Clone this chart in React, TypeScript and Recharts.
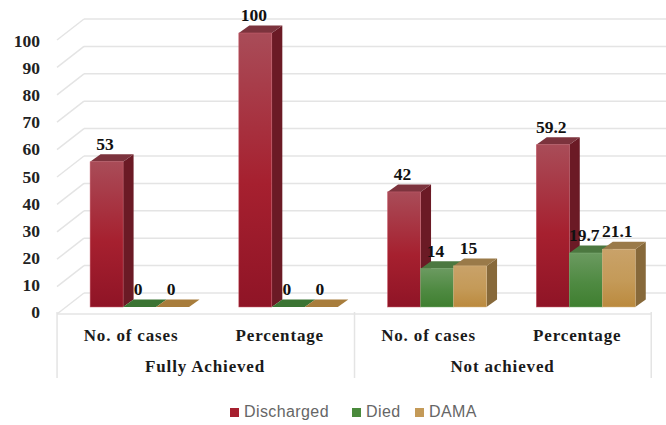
import React from 'react';
import { BarChart, Bar, XAxis, YAxis, CartesianGrid, Legend, LabelList } from 'recharts';

const metrics = ['No. of cases', 'Percentage', 'No. of cases', 'Percentage'];
const groups = ['Fully Achieved', 'Fully Achieved', 'Not achieved', 'Not achieved'];
const discharged = [53, 100, 42, 59.2];
const died = [0, 0, 14, 19.7];
const dama = [0, 0, 15, 21.1];
const yTicks = [0, 10, 20, 30, 40, 50, 60, 70, 80, 90, 100];

const data = metrics.map((metric, i) => ({
  metric,
  group: groups[i],
  Discharged: discharged[i],
  Died: died[i],
  DAMA: dama[i],
}));

const SERIF = '"Liberation Serif", serif';
const WALL = '#e4e4e4';
const DEPTH_X = 10.5;
const DEPTH_Y = 7.5;

const palette = {
  Discharged: { id: 'redFront', top: '#a94c58', mid: '#a6202f', bottom: '#8f1426', side: '#6b1a25', cap: '#7c333d', edge: '#c9606f', flat: '#a6202f' },
  Died: { id: 'greenFront', top: '#6b9a60', mid: '#4f8a42', bottom: '#3f7f30', side: '#3f6433', cap: '#4c7840', edge: '#7fae74', flat: '#3b7433' },
  DAMA: { id: 'amberFront', top: '#c9a269', mid: '#c49a58', bottom: '#bb8a3e', side: '#87693a', cap: '#9a7a49', edge: '#d8b888', flat: '#a87d3c' },
};

// front face plus side and cap, so each bar reads as a solid block
const Block3D = (name: keyof typeof palette) => (props: any) => {
  const { x, y, width, height } = props;
  const c = palette[name];
  const right = x + width;
  const bottom = y + height;
  return (
    <g>
      <polygon
        points={`${right},${y} ${right + DEPTH_X},${y - DEPTH_Y} ${right + DEPTH_X},${bottom - DEPTH_Y} ${right},${bottom}`}
        fill={c.side}
      />
      <polygon
        points={`${x},${y} ${x + DEPTH_X},${y - DEPTH_Y} ${right + DEPTH_X},${y - DEPTH_Y} ${right},${y}`}
        fill={height > 0 ? c.cap : c.flat}
      />
      {height > 0 && <rect x={x} y={y} width={width} height={height} fill={`url(#${c.id})`} stroke={c.edge} strokeWidth={0.5} />}
    </g>
  );
};

// back wall line, offset up from the bar plane, with a diagonal down the side wall
const WallLine = (props: any) => {
  const { x1, x2, y1, index } = props;
  const backY = y1 - 14;
  const backX = x1 + 18.3;
  return (
    <g stroke={WALL} fill="none" strokeWidth={1.5}>
      <line x1={backX} y1={backY} x2={x2 + 6} y2={backY} />
      <line x1={backX} y1={backY} x2={x1 - 8.7} y2={y1 + 7} />
      {index === 0 && <line x1={x1 - 8.7} y1={y1 + 7} x2={x2 - 9.6} y2={y1 + 7} />}
    </g>
  );
};

// labels sit on the front plane, which is slightly compressed against the bar plane
const ValueTick = (props: any) => (
  <text x={props.x - 17.7} y={props.y + 5 + ((307 - props.y) * 3) / 274} textAnchor="end" dominantBaseline="central" fontFamily={SERIF} fontWeight={700} fontSize={17.5} fill="#222">
    {props.payload.value}
  </text>
);

const MetricTick = (props: any) => (
  <text x={props.x - 9} y={props.y + 20} textAnchor="middle" dominantBaseline="central" fontFamily={SERIF} fontWeight={700} fontSize={17} letterSpacing={0.85} fill="#1a1a1a">
    {props.payload.value}
  </text>
);

// one label per pair of categories, with the bracket lines at either side
const GroupTick = (props: any) => {
  const { x, y, index, payload } = props;
  const top = y - 35;
  return (
    <g>
      {index % 2 === 0 && (
        <>
          <line x1={x - 83} y1={top} x2={x - 83} y2={top + 66} stroke={WALL} strokeWidth={1.5} />
          <text x={x + 65} y={y + 19} textAnchor="middle" dominantBaseline="central" fontFamily={SERIF} fontWeight={700} fontSize={17} letterSpacing={0.85} fill="#1a1a1a">
            {payload.value}
          </text>
        </>
      )}
      {index === metrics.length - 1 && <line x1={x + 65} y1={top} x2={x + 65} y2={top + 66} stroke={WALL} strokeWidth={1.5} />}
    </g>
  );
};

const ValueLabel = (props: any) => {
  const { x, y, width, value } = props;
  return (
    <text x={x + width / 2 - 1.5} y={y - 18} textAnchor="middle" dominantBaseline="central" fontFamily={SERIF} fontWeight={700} fontSize={17.5} fill="#111">
      {value}
    </text>
  );
};

const legendItems = [
  { name: 'Discharged', color: '#a6202f', left: 230 },
  { name: 'Died', color: '#4a8a3c', left: 352 },
  { name: 'DAMA', color: '#c49a58', left: 415 },
];

const LegendRow = () => (
  <div style={{ position: 'relative', height: 20, fontFamily: '"Liberation Sans", sans-serif', fontSize: 16, letterSpacing: 0.4, color: '#666' }}>
    {legendItems.map((item) => (
      <span key={item.name} style={{ position: 'absolute', left: item.left, top: 0, whiteSpace: 'nowrap', lineHeight: '20px' }}>
        <span style={{ display: 'inline-block', width: 9, height: 9, marginRight: 5, background: item.color }} />
        {item.name}
      </span>
    ))}
  </div>
);

export default function App() {
  return (
    <div style={{ position: 'absolute', left: 0, top: 0, width: 666, height: 425, background: '#fff' }}>
      <BarChart
        width={666}
        height={425}
        data={data}
        margin={{ top: 33, right: 5.4, bottom: 52, left: 0 }}
        barCategoryGap="16.4%"
        barGap={0}
      >
        <defs>
          {Object.values(palette).map((c) => (
            <linearGradient key={c.id} id={c.id} x1="0" y1="0" x2="0" y2="1">
              <stop offset="0%" stopColor={c.top} />
              <stop offset="55%" stopColor={c.mid} />
              <stop offset="100%" stopColor={c.bottom} />
            </linearGradient>
          ))}
        </defs>
        <CartesianGrid vertical={false} horizontal={WallLine as any} xAxisId={0} />
        <XAxis dataKey="metric" xAxisId={0} height={32} axisLine={false} tickLine={false} interval={0} allowDuplicatedCategory tick={MetricTick} />
        <XAxis dataKey="group" xAxisId={1} height={34} axisLine={false} tickLine={false} interval={0} allowDuplicatedCategory tick={GroupTick} />
        <YAxis width={65.7} domain={[0, 100]} ticks={yTicks} axisLine={false} tickLine={false} interval={0} tick={ValueTick} />
        <Legend verticalAlign="middle" align="center" layout="horizontal" wrapperStyle={{ left: 0, top: 402, width: 666 }} content={LegendRow} />
        <Bar xAxisId={0} dataKey="Discharged" isAnimationActive={false} shape={Block3D('Discharged')}>
          <LabelList dataKey="Discharged" content={ValueLabel} />
        </Bar>
        <Bar xAxisId={0} dataKey="Died" isAnimationActive={false} shape={Block3D('Died')}>
          <LabelList dataKey="Died" content={ValueLabel} />
        </Bar>
        <Bar xAxisId={0} dataKey="DAMA" isAnimationActive={false} shape={Block3D('DAMA')}>
          <LabelList dataKey="DAMA" content={ValueLabel} />
        </Bar>
      </BarChart>
    </div>
  );
}
